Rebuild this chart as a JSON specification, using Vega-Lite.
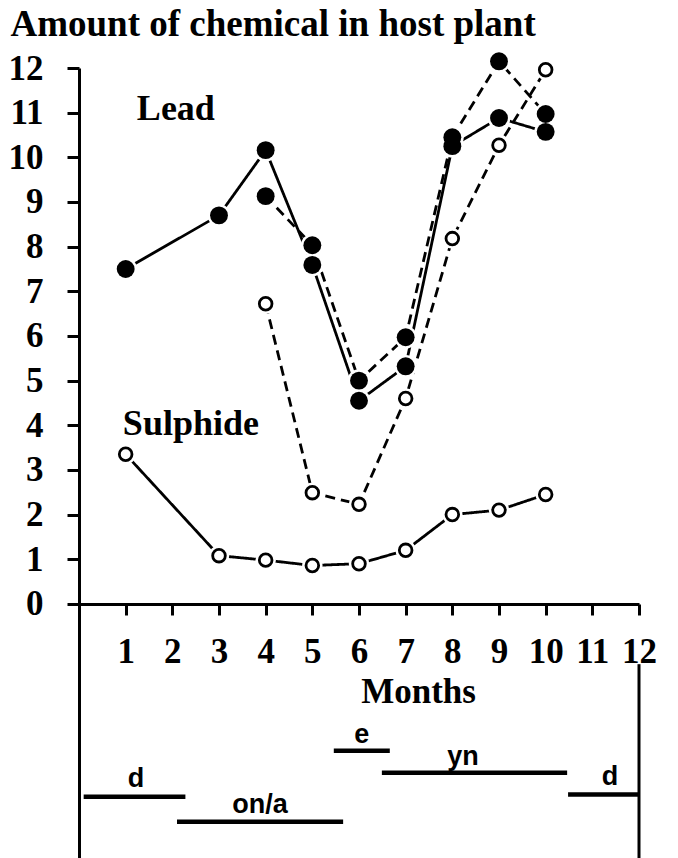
{
  "$schema": "https://vega.github.io/schema/vega-lite/v6.json",
  "width": 560,
  "height": 790,
  "autosize": {"type": "none"},
  "padding": {"left": 79, "top": 68, "right": 39, "bottom": 0},
  "background": "white",
  "config": {"view": {"stroke": null}},
  "datasets": {
    "series": [
      {"series": "A", "month": 1, "value": 7.5},
      {"series": "A", "month": 3, "value": 8.7},
      {"series": "A", "month": 4, "value": 10.16},
      {"series": "A", "month": 5, "value": 7.59},
      {"series": "A", "month": 6, "value": 4.55},
      {"series": "A", "month": 7, "value": 5.32},
      {"series": "A", "month": 8, "value": 10.25},
      {"series": "A", "month": 9, "value": 10.88},
      {"series": "A", "month": 10, "value": 10.57},
      {"series": "B", "month": 4, "value": 9.13},
      {"series": "B", "month": 5, "value": 8.03},
      {"series": "B", "month": 6, "value": 5.0},
      {"series": "B", "month": 7, "value": 5.97},
      {"series": "B", "month": 8, "value": 10.45},
      {"series": "B", "month": 9, "value": 12.15},
      {"series": "B", "month": 10, "value": 10.97},
      {"series": "C", "month": 4, "value": 6.72},
      {"series": "C", "month": 5, "value": 2.49},
      {"series": "C", "month": 6, "value": 2.23},
      {"series": "C", "month": 7, "value": 4.6},
      {"series": "C", "month": 8, "value": 8.18},
      {"series": "C", "month": 9, "value": 10.27},
      {"series": "C", "month": 10, "value": 11.96},
      {"series": "S", "month": 1, "value": 3.35},
      {"series": "S", "month": 3, "value": 1.08},
      {"series": "S", "month": 4, "value": 0.98},
      {"series": "S", "month": 5, "value": 0.86},
      {"series": "S", "month": 6, "value": 0.9},
      {"series": "S", "month": 7, "value": 1.2},
      {"series": "S", "month": 8, "value": 2.0},
      {"series": "S", "month": 9, "value": 2.1},
      {"series": "S", "month": 10, "value": 2.45}
    ],
    "phases": [
      {"phase": "d", "month": 0.1, "month_end": 2.28, "value": -4.32, "label_month": 1.22, "label_value": -4.1},
      {"phase": "on/a", "month": 2.1, "month_end": 5.66, "value": -4.88, "label_month": 3.88, "label_value": -4.68},
      {"phase": "e", "month": 5.46, "month_end": 6.66, "value": -3.29, "label_month": 6.06, "label_value": -3.11},
      {"phase": "yn", "month": 6.49, "month_end": 10.46, "value": -3.78, "label_month": 8.23, "label_value": -3.6},
      {"phase": "d", "month": 10.48, "month_end": 12.0, "value": -4.27, "label_month": 11.38, "label_value": -4.05}
    ],
    "names": [
      {"name": "Lead", "month": 1.24, "value": 10.83},
      {"name": "Sulphide", "month": 0.94, "value": 3.78}
    ]
  },
  "layer": [
    {
      "data": {"name": "series"},
      "mark": {"type": "line", "stroke": "black", "strokeWidth": 2.8},
      "encoding": {
        "x": {
          "field": "month", "type": "quantitative",
          "scale": {"domain": [0, 12], "nice": false, "zero": false},
          "axis": {
            "orient": "bottom", "offset": -254,
            "values": [1, 2, 3, 4, 5, 6, 7, 8, 9, 10, 11, 12],
            "grid": false,
            "domainColor": "black", "domainWidth": 3,
            "tickColor": "black", "tickWidth": 3, "tickSize": 11,
            "labelFont": "Liberation Serif", "labelFontWeight": "bold", "labelFontSize": 35,
            "labelColor": "black", "labelBaseline": "alphabetic", "labelPadding": 47,
            "labelFlush": false, "labelOverlap": false, "labelBound": false,
            "title": "Months",
            "titleFont": "Liberation Serif", "titleFontWeight": "bold", "titleFontSize": 35,
            "titleColor": "black", "titleX": 339, "titleY": 98,
            "titleAlign": "center", "titleBaseline": "alphabetic"
          }
        },
        "y": {
          "field": "value", "type": "quantitative",
          "scale": {"domain": [-5.69, 12], "nice": false, "zero": false},
          "axis": {
            "orient": "left",
            "values": [0, 1, 2, 3, 4, 5, 6, 7, 8, 9, 10, 11, 12],
            "grid": false,
            "domainColor": "black", "domainWidth": 3,
            "tickColor": "black", "tickWidth": 3, "tickSize": 12,
            "labelFont": "Liberation Serif", "labelFontWeight": "bold", "labelFontSize": 35,
            "labelColor": "black", "labelAlign": "right", "labelBaseline": "middle",
            "labelPadding": 24, "labelFlush": false, "labelOverlap": false,
            "title": "Amount of chemical in host plant",
            "titleFont": "Liberation Serif", "titleFontWeight": "bold", "titleFontSize": 37,
            "titleColor": "black", "titleAngle": 0, "titleAlign": "left",
            "titleBaseline": "alphabetic", "titleX": -69, "titleY": -33
          }
        },
        "strokeDash": {
          "field": "series", "type": "nominal",
          "scale": {"domain": ["A", "B", "C", "S"], "range": [[1, 0], [10, 6], [10, 6], [1, 0]]},
          "legend": null
        }
      }
    },
    {
      "data": {"name": "series"},
      "transform": [{"filter": "datum.series === 'A' || datum.series === 'B'"}],
      "mark": {"type": "circle", "fill": "white", "opacity": 1, "size": 520},
      "encoding": {
        "x": {"field": "month", "type": "quantitative"},
        "y": {"field": "value", "type": "quantitative"}
      }
    },
    {
      "data": {"name": "series"},
      "transform": [{"filter": "datum.series === 'C' || datum.series === 'S'"}],
      "mark": {"type": "circle", "fill": "white", "opacity": 1, "size": 420},
      "encoding": {
        "x": {"field": "month", "type": "quantitative"},
        "y": {"field": "value", "type": "quantitative"}
      }
    },
    {
      "data": {"name": "series"},
      "transform": [{"filter": "datum.series === 'A' || datum.series === 'B'"}],
      "mark": {"type": "circle", "fill": "black", "opacity": 1, "size": 320},
      "encoding": {
        "x": {"field": "month", "type": "quantitative"},
        "y": {"field": "value", "type": "quantitative"}
      }
    },
    {
      "data": {"name": "series"},
      "transform": [{"filter": "datum.series === 'C' || datum.series === 'S'"}],
      "mark": {"type": "circle", "fill": "white", "stroke": "black", "strokeWidth": 2.8, "opacity": 1, "size": 160},
      "encoding": {
        "x": {"field": "month", "type": "quantitative"},
        "y": {"field": "value", "type": "quantitative"}
      }
    },
    {
      "data": {"name": "names"},
      "mark": {"type": "text", "font": "Liberation Serif", "fontWeight": "bold", "fontSize": 36, "align": "left", "baseline": "alphabetic", "color": "black"},
      "encoding": {
        "x": {"field": "month", "type": "quantitative"},
        "y": {"field": "value", "type": "quantitative"},
        "text": {"field": "name"}
      }
    },
    {
      "data": {"name": "phases"},
      "mark": {"type": "rule", "stroke": "black", "strokeWidth": 4.5},
      "encoding": {
        "x": {"field": "month", "type": "quantitative"},
        "x2": {"field": "month_end"},
        "y": {"field": "value", "type": "quantitative"}
      }
    },
    {
      "data": {"name": "phases"},
      "mark": {"type": "text", "font": "Liberation Sans", "fontWeight": "bold", "fontSize": 27, "align": "center", "baseline": "alphabetic", "color": "black"},
      "encoding": {
        "x": {"field": "label_month", "type": "quantitative"},
        "y": {"field": "label_value", "type": "quantitative"},
        "text": {"field": "phase"}
      }
    },
    {
      "data": {"values": [{}]},
      "mark": {"type": "rule", "stroke": "black", "strokeWidth": 3},
      "encoding": {
        "x": {"datum": 12, "type": "quantitative"},
        "y": {"datum": -1.35, "type": "quantitative"},
        "y2": {"datum": -5.69}
      }
    }
  ]
}
